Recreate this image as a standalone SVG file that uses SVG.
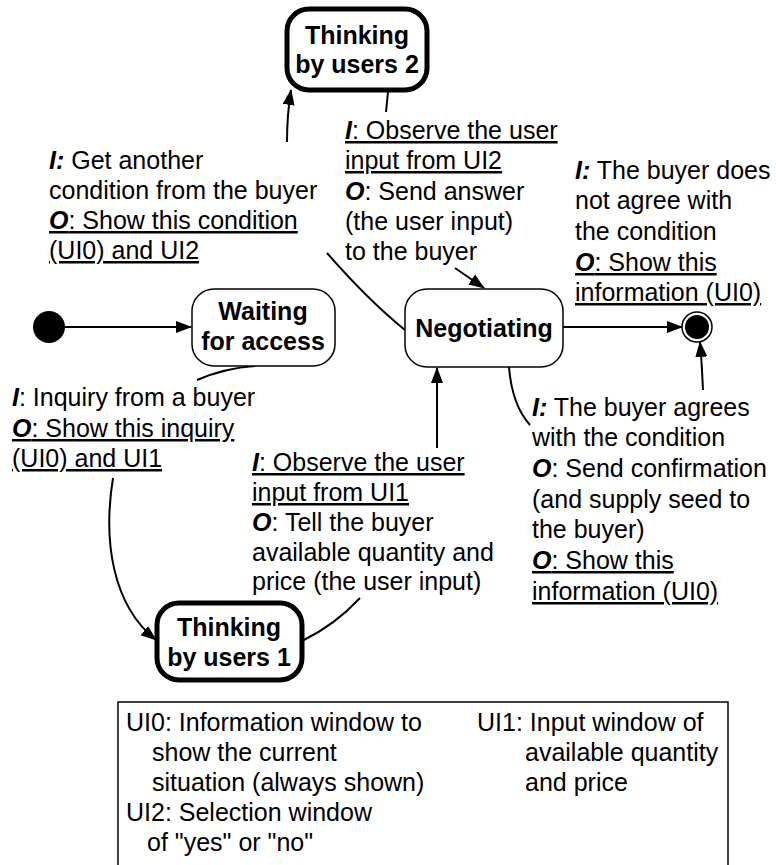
<svg xmlns="http://www.w3.org/2000/svg" width="776" height="865" viewBox="0 0 776 865">
<style>
text{font-family:"Liberation Sans",Arial,sans-serif;font-size:25px;fill:#000}
.n{font-weight:bold;text-anchor:middle}
.u{text-decoration:underline}
.bi{font-weight:bold;font-style:italic}
.c{fill:none;stroke:#000;stroke-width:2}
.box{fill:#fff;stroke:#000;stroke-width:1.5}
.thick{fill:#fff;stroke:#000;stroke-width:5}
</style>
<defs>
<marker id="ah" markerUnits="userSpaceOnUse" markerWidth="16" markerHeight="12" refX="15" refY="6" orient="auto">
<path d="M0,0 L16,6 L0,12 Z" fill="#000"/>
</marker>
</defs>
<g id="connectors">
<path class="c" d="M65,327 L191,327" marker-end="url(#ah)"/>
<path class="c" d="M255,366 Q225,368 197,380"/>
<path class="c" d="M113,478 C103,540 112,605 156,640" marker-end="url(#ah)"/>
<path class="c" d="M302,641 Q335,625 360,598"/>
<path class="c" d="M437,448 L437,368" marker-end="url(#ah)"/>
<path class="c" d="M405,330 Q368,300 327,253"/>
<path class="c" d="M287,142 Q287,115 291,90" marker-end="url(#ah)"/>
<path class="c" d="M388,92 L386,112"/>
<path class="c" d="M455,268 L484,288" marker-end="url(#ah)"/>
<path class="c" d="M563,327 L682,327" marker-end="url(#ah)"/>
<path class="c" d="M509,367 Q512,405 530,425"/>
<path class="c" d="M703,390 Q702,365 700,342" marker-end="url(#ah)"/>
</g>
<g id="initial"><circle cx="49" cy="327" r="16" fill="#000"/></g>
<g id="final"><circle cx="697" cy="327" r="15" fill="#fff" stroke="#000" stroke-width="1.5"/><circle cx="697" cy="327" r="12" fill="#000"/></g>
<g id="waiting">
<rect class="box" x="192" y="289" width="143" height="77" rx="22"/>
<text class="n" x="263" y="320">Waiting</text>
<text class="n" x="263" y="350">for access</text>
</g>
<g id="negotiating">
<rect class="box" x="405" y="289" width="158" height="78" rx="22"/>
<text class="n" x="484" y="337">Negotiating</text>
</g>
<g id="thinking2">
<rect class="thick" x="287" y="9" width="140" height="81" rx="22"/>
<text class="n" x="357" y="44">Thinking</text>
<text class="n" x="357" y="73">by users 2</text>
</g>
<g id="thinking1">
<rect class="thick" x="157" y="603" width="145" height="77" rx="22"/>
<text class="n" x="229" y="636">Thinking</text>
<text class="n" x="229" y="666">by users 1</text>
</g>
<g id="label-a">
<text x="49" y="169"><tspan class="bi">I:</tspan> Get another</text>
<text x="49" y="199">condition from the buyer</text>
<text class="u" x="49" y="229"><tspan class="bi">O</tspan>: Show this condition</text>
<text class="u" x="49" y="259">(UI0) and UI2</text>
</g>
<g id="label-b">
<text class="u" x="345" y="139"><tspan class="bi">I</tspan>: Observe the user</text>
<text class="u" x="345" y="169">input from UI2</text>
<text x="345" y="200"><tspan class="bi">O</tspan>: Send answer</text>
<text x="345" y="230">(the user input)</text>
<text x="345" y="260">to the buyer</text>
</g>
<g id="label-c">
<text x="575" y="179"><tspan class="bi">I:</tspan> The buyer does</text>
<text x="575" y="209">not agree with</text>
<text x="575" y="240">the condition</text>
<text class="u" x="575" y="271"><tspan class="bi">O</tspan>: Show this</text>
<text class="u" x="575" y="301">information (UI0)</text>
</g>
<g id="label-d">
<text x="12" y="406"><tspan class="bi">I</tspan>: Inquiry from a buyer</text>
<text class="u" x="12" y="437"><tspan class="bi">O</tspan>: Show this inquiry</text>
<text class="u" x="12" y="467">(UI0) and UI1</text>
</g>
<g id="label-e">
<text class="u" x="252" y="471"><tspan class="bi">I</tspan>: Observe the user</text>
<text class="u" x="252" y="501">input from UI1</text>
<text x="252" y="531"><tspan class="bi">O</tspan>: Tell the buyer</text>
<text x="252" y="561">available quantity and</text>
<text x="252" y="590">price (the user input)</text>
</g>
<g id="label-f">
<text x="532" y="416"><tspan class="bi">I:</tspan> The buyer agrees</text>
<text x="532" y="446">with the condition</text>
<text x="532" y="477"><tspan class="bi">O</tspan>: Send confirmation</text>
<text x="532" y="508">(and supply seed to</text>
<text x="532" y="538">the buyer)</text>
<text class="u" x="532" y="569"><tspan class="bi">O</tspan>: Show this</text>
<text class="u" x="532" y="600">information (UI0)</text>
</g>
<g id="legend">
<rect x="118" y="702" width="610" height="180" fill="#fff" stroke="#000" stroke-width="1.5"/>
<text x="126" y="731">UI0: Information window to</text>
<text x="152" y="761">show the current</text>
<text x="152" y="791">situation (always shown)</text>
<text x="126" y="821">UI2: Selection window</text>
<text x="147" y="851">of "yes" or "no"</text>
<text x="477" y="731">UI1: Input window of</text>
<text x="525" y="761">available quantity</text>
<text x="525" y="791">and price</text>
</g>
</svg>
